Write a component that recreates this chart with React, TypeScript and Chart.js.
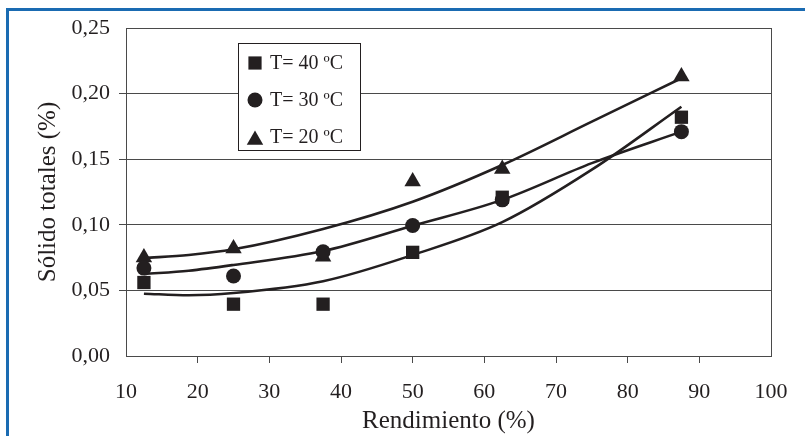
import React, { useEffect, useRef } from "react";
import { Chart, registerables } from "chart.js";

Chart.register(...registerables);

// Measured data (Rendimiento %, Sólido totales %)
const rendimiento = [12.5, 25, 37.5, 50, 62.5, 87.5];
const solidos40 = [0.056, 0.0395, 0.0395, 0.079, 0.121, 0.182];
const solidos30 = [0.067, 0.061, 0.0795, 0.0995, 0.119, 0.171];
const solidos20 = [0.075, 0.082, 0.0757, 0.133, 0.1425, 0.213];

// Trend curves
const trendX = [12.5, 18.75, 25, 37.5, 50, 62.5, 75, 87.5];
const trend40 = [0.0475, 0.0463, 0.048, 0.057, 0.077, 0.102, 0.142, 0.19];
const trend30 = [0.0625, 0.065, 0.0694, 0.08, 0.0993, 0.119, 0.147, 0.171];
const trend20 = [0.0747, 0.077, 0.0813, 0.0968, 0.1176, 0.1456, 0.1786, 0.2117];

const legendLabels = ["T= 40 ºC", "T= 30 ºC", "T= 20 ºC"];
const xTicks = { min: 10, max: 100, step: 10 };
const yTicks = { min: 0, max: 0.25, step: 0.05 };
const xTitle = "Rendimiento (%)";
const yTitle = "Sólido totales (%)";

const INK = "#231f20";
const GRID = "#4a4a4a";
const SERIF = '"Liberation Serif", "Times New Roman", serif';

const pts = (xs: number[], ys: number[]) => xs.map((x, i) => ({ x, y: ys[i] }));

function drawMarker(ctx: CanvasRenderingContext2D, style: string, x: number, y: number) {
  ctx.beginPath();
  if (style === "rect") {
    const s = 6.6;
    ctx.rect(x - s, y - s, 2 * s, 2 * s);
  } else if (style === "circle") {
    ctx.arc(x, y, 7.5, 0, Math.PI * 2);
  } else {
    const r = 9.5;
    ctx.moveTo(x, y - r);
    ctx.lineTo(x + r * Math.sin(Math.PI / 3), y + r / 2);
    ctx.lineTo(x - r * Math.sin(Math.PI / 3), y + r / 2);
    ctx.closePath();
  }
  ctx.fillStyle = INK;
  ctx.fill();
}

const framePlugin = {
  id: "frameAndLegend",
  afterDatasetsDraw(chart: any) {
    const { ctx, chartArea } = chart;
    ctx.save();
    ctx.strokeStyle = GRID;
    ctx.lineWidth = 1;
    ctx.strokeRect(
      Math.round(chartArea.left) + 0.5,
      Math.round(chartArea.top) + 0.5,
      Math.round(chartArea.right - chartArea.left),
      Math.round(chartArea.bottom - chartArea.top)
    );
    // legend box
    const bx = 238.5, by = 43.5, bw = 122, bh = 107;
    ctx.fillStyle = "#ffffff";
    ctx.fillRect(bx, by, bw, bh);
    ctx.strokeStyle = INK;
    ctx.strokeRect(bx, by, bw, bh);
    const styles = ["rect", "circle", "triangle"];
    const rows = [63, 100, 137];
    ctx.font = `20px ${SERIF}`;
    ctx.textBaseline = "middle";
    ctx.textAlign = "left";
    legendLabels.forEach((lab, i) => {
      drawMarker(ctx, styles[i], 255, rows[i] + (styles[i] === "triangle" ? 3 : 0));
      ctx.fillStyle = INK;
      ctx.fillText(lab, 270, rows[i] + 1);
    });
    ctx.restore();
  },
};

export default function App() {
  const ref = useRef<HTMLCanvasElement | null>(null);
  useEffect(() => {
    if (!ref.current) return;
    const edgeHidden = (c: any) => {
      const v = c.tick ? c.tick.value : 0;
      const sc = c.scale;
      return Math.abs(v - sc.min) < 1e-9 || Math.abs(v - sc.max) < 1e-9 ? "rgba(0,0,0,0)" : GRID;
    };
    const chart = new Chart(ref.current, {
      type: "scatter",
      data: {
        datasets: [
          { label: legendLabels[0], data: pts(rendimiento, solidos40), pointStyle: "rect", pointRadius: 9.4, backgroundColor: INK, borderColor: INK, borderWidth: 0, order: 1 },
          { label: legendLabels[1], data: pts(rendimiento, solidos30), pointStyle: "circle", pointRadius: 7.5, backgroundColor: INK, borderColor: INK, borderWidth: 0, order: 1 },
          { label: legendLabels[2], data: pts(rendimiento, solidos20), pointStyle: "triangle", pointRadius: 9.5, backgroundColor: INK, borderColor: INK, borderWidth: 0, order: 1 },
          { label: "fit40", data: pts(trendX, trend40), showLine: true, pointRadius: 0, borderColor: INK, borderWidth: 2.6, cubicInterpolationMode: "monotone", order: 2 },
          { label: "fit30", data: pts(trendX, trend30), showLine: true, pointRadius: 0, borderColor: INK, borderWidth: 2.6, cubicInterpolationMode: "monotone", order: 2 },
          { label: "fit20", data: pts(trendX, trend20), showLine: true, pointRadius: 0, borderColor: INK, borderWidth: 2.6, cubicInterpolationMode: "monotone", order: 2 },
        ] as any,
      },
      options: {
        animation: false,
        responsive: false,
        devicePixelRatio: 1,
        layout: { padding: { top: 28, right: 34, left: 0, bottom: 0 } },
        plugins: { legend: { display: false }, tooltip: { enabled: false } },
        scales: {
          x: {
            type: "linear",
            min: xTicks.min,
            max: xTicks.max,
            afterFit: (s: any) => { s.height = 80; },
            ticks: { stepSize: xTicks.step, color: INK, font: { family: SERIF, size: 22 }, padding: 16 },
            grid: { drawOnChartArea: false, drawTicks: true, tickLength: 7, color: edgeHidden as any },
            border: { display: true, color: GRID, width: 1 },
            title: { display: true, text: xTitle, color: INK, font: { family: SERIF, size: 25 }, padding: { top: 0, bottom: 0 } },
          },
          y: {
            min: yTicks.min,
            max: yTicks.max,
            afterFit: (s: any) => { s.width = 126; },
            ticks: {
              stepSize: yTicks.step,
              color: INK,
              font: { family: SERIF, size: 22 },
              padding: 9,
              callback: (v: any) => Number(v).toFixed(2).replace(".", ","),
            },
            grid: { drawOnChartArea: true, drawTicks: true, tickLength: 7, color: edgeHidden as any, lineWidth: 1 },
            border: { display: true, color: GRID, width: 1 },
            title: { display: true, text: yTitle, color: INK, font: { family: SERIF, size: 25 }, padding: { top: 33, bottom: 0 } },
          },
        },
      } as any,
      plugins: [framePlugin],
    });
    return () => chart.destroy();
  }, []);

  return (
    <div style={{ position: "fixed", left: 0, top: 0, width: 805, height: 436, background: "#fff" }}>
      <canvas ref={ref} width={805} height={436} style={{ position: "absolute", left: 0, top: 0 }} />
      <div
        style={{
          position: "absolute",
          left: 6,
          top: 8,
          width: 805 - 6,
          height: 436 - 8,
          borderTop: "3px solid #1a6bb2",
          borderLeft: "3px solid #1a6bb2",
          boxSizing: "border-box",
          pointerEvents: "none",
        }}
      />
    </div>
  );
}
